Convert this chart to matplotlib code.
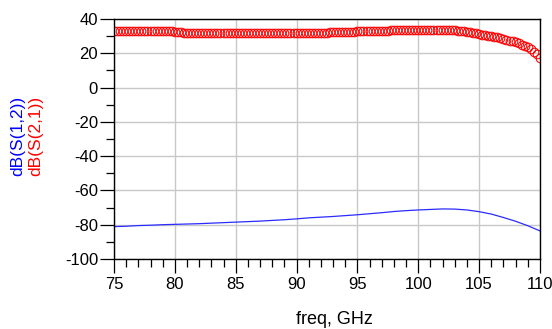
import numpy as np
import matplotlib
matplotlib.use("Agg")
import matplotlib.pyplot as plt
from matplotlib.ticker import MultipleLocator

plt.rcParams['font.family'] = ['Liberation Sans', 'DejaVu Sans']
plt.rcParams['axes.unicode_minus'] = False

# S21 sampled every 0.25 GHz, 75..110 GHz
freq_s21 = np.arange(141) * 0.25 + 75
s21_db = [
    33.2, 33.2, 33.2, 33.2,
    33.2, 33.2, 33.2, 33.1,
    33.0, 32.8, 32.8, 32.8,
    32.8, 32.8, 32.8, 32.8,
    32.7, 32.7, 32.7, 32.7,
    32.6, 32.4, 32.2, 32.1,
    32.1, 32.1, 32.1, 32.1,
    32.1, 32.1, 32.0, 32.0,
    32.0, 32.0, 31.9, 31.9,
    31.9, 31.9, 31.8, 31.8,
    31.8, 31.8, 31.7, 31.7,
    31.7, 31.7, 31.7, 31.6,
    31.6, 31.6, 31.6, 31.6,
    31.6, 31.6, 31.6, 31.6,
    31.6, 31.7, 31.8, 31.9,
    32.0, 32.0, 32.0, 32.0,
    32.0, 32.0, 32.1, 32.1,
    32.1, 32.1, 32.1, 32.2,
    32.2, 32.2, 32.2, 32.2,
    32.3, 32.3, 32.4, 32.5,
    32.7, 32.7, 32.7, 32.7,
    32.8, 32.8, 32.9, 33.0,
    33.2, 33.2, 33.2, 33.3,
    33.3, 33.3, 33.4, 33.4,
    33.5, 33.5, 33.5, 33.6,
    33.6, 33.6, 33.6, 33.7,
    33.7, 33.7, 33.7, 33.7,
    33.6, 33.6, 33.5, 33.4,
    33.3, 33.1, 33.0, 32.8,
    32.6, 32.4, 32.1, 31.9,
    31.2, 30.9, 30.6, 30.2,
    29.9, 29.6, 29.2, 28.8,
    28.4, 27.9, 27.4, 26.9,
    26.3, 25.7, 25.1, 24.4,
    23.6, 22.4, 21.0, 19.3,
    17.3,
]

# S12 read every 1 GHz
freq_s12 = np.arange(75, 111)
s12_db = [
    -81.1, -80.9, -80.5, -80.3, -80.0, -79.8, -79.6, -79.4, -79.1, -78.8,
    -78.5, -78.2, -77.9, -77.5, -77.1, -76.6, -76.0, -75.6, -75.2, -74.7,
    -74.2, -73.6, -73.0, -72.3, -71.8, -71.4, -71.1, -70.8, -70.9, -71.4,
    -72.4, -73.8, -75.8, -78.0, -80.6, -83.6,
]

fig = plt.figure(figsize=(5.52, 3.29), dpi=100)
ax = fig.add_axes([0.2065, 0.2128, 0.7717, 0.7295])

ax.plot(freq_s12, s12_db, color='#2b2bff', linewidth=0.9)
ax.plot(freq_s21, s21_db, linestyle='none', marker='o', markersize=6.2,
        markerfacecolor='none', markeredgecolor='red', markeredgewidth=0.75)

ax.set_xlim(75, 110)
ax.set_ylim(-100, 40)
ax.xaxis.set_major_locator(MultipleLocator(5))
ax.xaxis.set_minor_locator(MultipleLocator(1))
ax.yaxis.set_major_locator(MultipleLocator(20))
ax.yaxis.set_minor_locator(MultipleLocator(10))
ax.grid(True, which='major', color='#c8c8c8', linewidth=1)
ax.set_axisbelow(True)

ax.tick_params(which='major', direction='out', length=10, width=0.9, labelsize=12, color='black')
ax.tick_params(which='minor', direction='out', length=5.5, width=0.9, color='black')
ax.tick_params(axis='x', which='major', pad=3)
ax.tick_params(axis='y', which='major', pad=1.5)
ax.tick_params(top=False, right=False, which='both')
for s in ax.spines.values():
    s.set_linewidth(1)
    s.set_color('black')

fig.text(0.605, 0.03, 'freq, GHz', ha='center', va='center', fontsize=13)
fig.text(0.032, 0.587, 'dB(S(1,2))', rotation=90, ha='center', va='center',
         fontsize=12.5, color='blue')
fig.text(0.064, 0.587, 'dB(S(2,1))', rotation=90, ha='center', va='center',
         fontsize=12.5, color='red')

fig.savefig('out.png', dpi=100)
